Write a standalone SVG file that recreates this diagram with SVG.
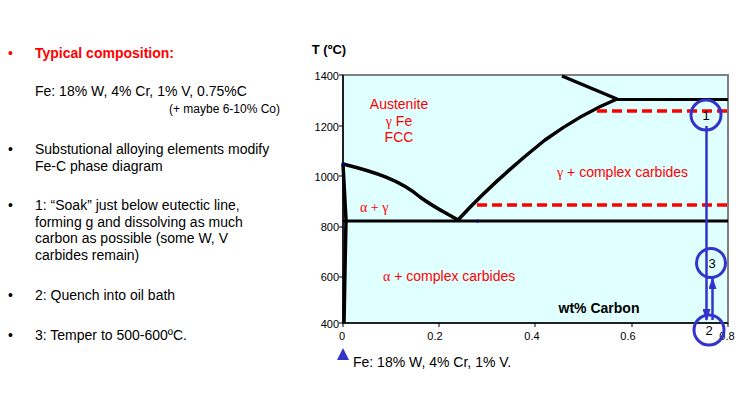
<svg xmlns="http://www.w3.org/2000/svg" width="749" height="402" viewBox="0 0 749 402">
<style>
text{font-family:"Liberation Sans",Arial,sans-serif;}
.body{font-size:14px;fill:#000;}
.small{font-size:12px;fill:#000;}
.red{fill:#ff0000;}
.lbl{font-size:14px;fill:#ff0000;}
.gr{font-family:"Liberation Serif","Times New Roman",serif;}
.tick{font-size:11px;fill:#000;}
.curve{fill:none;stroke:#000;stroke-width:3.5;stroke-linejoin:round;}
.hline{fill:none;stroke:#000;stroke-width:3;}
.dash{fill:none;stroke:#ff0000;stroke-width:3.5;stroke-dasharray:10,5;}
.blue{fill:none;stroke:#3333cc;stroke-width:3;}
.bline{fill:none;stroke:#3333cc;stroke-width:2.5;}
.num{font-size:13px;fill:#000;}
.note{font-size:14px;fill:#000;}
</style>
<defs>
<marker id="ah" viewBox="0 0 12 8" refX="11" refY="4" markerWidth="4.8" markerHeight="3.2" orient="auto">
<path d="M0,0 L12,4 L0,8 z" fill="#3333cc"/>
</marker>
</defs>
<rect width="749" height="402" fill="#fff"/>

<g id="text-left">
<text x="8" y="58" class="body red">•</text>
<text x="35" y="58" class="body red" font-weight="bold">Typical composition:</text>
<text x="35" y="96" class="body">Fe: 18% W, 4% Cr, 1% V, 0.75%C</text>
<text x="280" y="113" class="small" text-anchor="end">(+ maybe 6-10% Co)</text>
<text x="8" y="154" class="body">•</text>
<text x="35" y="154" class="body">Substutional alloying elements modify</text>
<text x="35" y="171" class="body">Fe-C phase diagram</text>
<text x="8" y="210" class="body">•</text>
<text x="35" y="210" class="body">1: “Soak” just below eutectic line,</text>
<text x="35" y="227" class="body">forming g and dissolving as much</text>
<text x="35" y="243" class="body">carbon as possible (some W, V</text>
<text x="35" y="260" class="body">carbides remain)</text>
<text x="8" y="300" class="body">•</text>
<text x="35" y="300" class="body">2: Quench into oil bath</text>
<text x="8" y="340" class="body">•</text>
<text x="35" y="340" class="body">3: Temper to 500-600ºC.</text>
</g>

<g id="plot-area">
<rect x="343" y="75" width="385" height="248" fill="#e0ffff" stroke="#808080" stroke-width="2"/>
<line x1="343" y1="75" x2="343" y2="323" stroke="#000" stroke-width="1.5"/>
<line x1="343" y1="323" x2="728" y2="323" stroke="#000" stroke-width="1.5"/>
<g stroke="#000" stroke-width="1">
<line x1="339" y1="75" x2="343" y2="75"/>
<line x1="339" y1="126" x2="343" y2="126"/>
<line x1="339" y1="176" x2="343" y2="176"/>
<line x1="339" y1="227" x2="343" y2="227"/>
<line x1="339" y1="277" x2="343" y2="277"/>
<line x1="339" y1="323" x2="343" y2="323"/>
<line x1="343" y1="323" x2="343" y2="327"/>
<line x1="439" y1="323" x2="439" y2="327"/>
<line x1="535" y1="323" x2="535" y2="327"/>
<line x1="632" y1="323" x2="632" y2="327"/>
<line x1="728" y1="323" x2="728" y2="327"/>
</g>
</g>

<g id="axis-labels">
<text x="329" y="54" font-size="13" font-weight="bold" text-anchor="middle">T (ºC)</text>
<text x="339" y="80" class="tick" text-anchor="end">1400</text>
<text x="339" y="131" class="tick" text-anchor="end">1200</text>
<text x="339" y="181" class="tick" text-anchor="end">1000</text>
<text x="339" y="231" class="tick" text-anchor="end">800</text>
<text x="339" y="281" class="tick" text-anchor="end">600</text>
<text x="339" y="328" class="tick" text-anchor="end">400</text>
<text x="342" y="340" class="tick" text-anchor="middle">0</text>
<text x="435" y="340" class="tick" text-anchor="middle">0.2</text>
<text x="532" y="340" class="tick" text-anchor="middle">0.4</text>
<text x="628" y="340" class="tick" text-anchor="middle">0.6</text>
<text x="727" y="340" class="tick" text-anchor="middle">0.8</text>
<text x="599" y="313" font-size="14" font-weight="bold" text-anchor="middle">wt% Carbon</text>
</g>

<g id="connectors">
<path class="curve" d="M343,164 L346,220 L345,270 L344,323"/>
<path class="curve" d="M343,164 C375,172 400,180 420,197 C435,208 448,214 458,220"/>
<path class="curve" d="M458,220 C490,185 520,160 545,140 C570,122 595,108 617,99"/>
<path class="curve" d="M562,76 L617,99"/>
<line class="hline" x1="617" y1="99.5" x2="728" y2="99.5"/>
<line class="hline" x1="343" y1="221" x2="728" y2="221"/>
<line class="dash" x1="597" y1="111" x2="728" y2="111"/>
<line class="dash" x1="477" y1="205" x2="728" y2="205"/>
<g fill="#00008b">
<rect x="341.5" y="162.5" width="3" height="3"/>
<rect x="476.5" y="219.5" width="2" height="3"/>
</g>
</g>

<g id="phase-labels">
<text x="399" y="109" class="lbl" text-anchor="middle">Austenite</text>
<text x="399" y="126" class="lbl" text-anchor="middle"><tspan class="gr">γ</tspan> Fe</text>
<text x="399" y="142" class="lbl" text-anchor="middle">FCC</text>
<text x="557" y="177" class="lbl"><tspan class="gr">γ</tspan> + complex carbides</text>
<text x="360" y="212" class="lbl gr">α + γ</text>
<text x="383" y="281" class="lbl"><tspan class="gr">α</tspan> + complex carbides</text>
</g>

<g id="path-steps">
<line class="bline" x1="706.5" y1="126" x2="706.5" y2="320" marker-end="url(#ah)"/>
<line class="bline" x1="712.5" y1="320" x2="712.5" y2="278" marker-end="url(#ah)"/>
</g>
<g id="step-1">
<circle class="blue" cx="706" cy="115" r="15"/>
<text x="706" y="120" class="num" text-anchor="middle">1</text>
</g>
<g id="step-3">
<circle class="blue" cx="711" cy="263" r="14.5"/>
<text x="712" y="268" class="num" text-anchor="middle">3</text>
</g>
<g id="step-2">
<circle class="blue" cx="709" cy="330" r="15"/>
<text x="709" y="335" class="num" text-anchor="middle">2</text>
</g>

<g id="composition-note">
<polygon points="343,348 337,360 349,360" fill="#3333cc"/>
<text x="353" y="367" class="note">Fe: 18% W, 4% Cr, 1% V.</text>
</g>
</svg>
